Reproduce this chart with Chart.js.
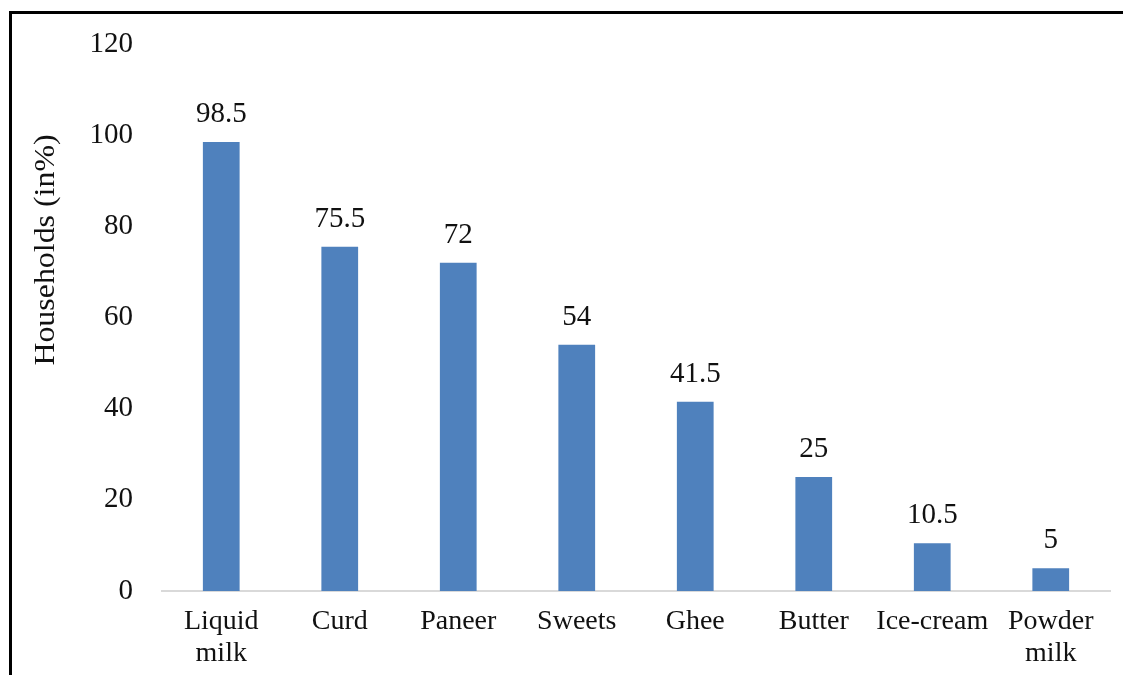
<!DOCTYPE html>
<html>
<head>
<meta charset="utf-8">
<script src="https://cdn.jsdelivr.net/npm/chart.js@4/dist/chart.umd.min.js"></script>
<style>
  html, body { margin: 0; padding: 0; background: #fff; }
  #wrap { position: relative; width: 1123px; height: 675px; overflow: hidden; }
  #frame {
    position: absolute; left: 9px; top: 11px; width: 1200px; height: 800px;
    border-left: 3px solid #000; border-top: 3px solid #000;
  }
  canvas { position: absolute; left: 0; top: 0; }
</style>
</head>
<body>
<div id="wrap">
  <div id="frame"></div>
  <canvas id="myChart" width="1123" height="675"></canvas>
</div>
<script>
const categories = [["Liquid", "milk"], "Curd", "Paneer", "Sweets", "Ghee", "Butter", "Ice-cream", ["Powder", "milk"]];
const households = [98.5, 75.5, 72, 54, 41.5, 25, 10.5, 5];
const yTicks = [0, 20, 40, 60, 80, 100, 120];
const axisTitle = "Households (in%)";

const serif = "'Liberation Serif', 'Times New Roman', serif";

// value labels above every bar
const barLabels = {
  id: "barLabels",
  afterDatasetsDraw(chart) {
    const ctx = chart.ctx;
    const meta = chart.getDatasetMeta(0);
    ctx.save();
    ctx.font = "29px " + serif;
    ctx.fillStyle = "#111";
    ctx.textAlign = "center";
    ctx.textBaseline = "bottom";
    meta.data.forEach((bar, i) => {
      ctx.fillText(String(households[i]), bar.x, bar.y - 13);
    });
    ctx.restore();
  }
};

// y title sits above the middle of the axis in the original
const sideTitle = {
  id: "sideTitle",
  afterDraw(chart) {
    const ctx = chart.ctx;
    ctx.save();
    ctx.translate(46, 250);
    ctx.rotate(-Math.PI / 2);
    ctx.scale(1.1, 1); // the source text is a little stretched along its length
    ctx.font = "29px " + serif;
    ctx.fillStyle = "#111";
    ctx.textAlign = "center";
    ctx.textBaseline = "middle";
    ctx.fillText(axisTitle, 0, 0);
    ctx.restore();
  }
};

new Chart(document.getElementById("myChart").getContext("2d"), {
  type: "bar",
  data: {
    labels: categories,
    datasets: [{
      data: households,
      backgroundColor: "#4F81BD",
      borderWidth: 0,
      barPercentage: 0.31,
      categoryPercentage: 1
    }]
  },
  options: {
    responsive: false,
    animation: false,
    events: [],
    layout: { padding: { top: 44, right: 13, bottom: 0, left: 0 } },
    plugins: { legend: { display: false }, tooltip: { enabled: false } },
    scales: {
      x: {
        grid: { display: true, drawOnChartArea: false, drawTicks: false },
        border: { display: true, color: "#d9d9d9", width: 2 },
        ticks: {
          color: "#111",
          padding: 15,
          maxRotation: 0,
          autoSkip: false,
          font: { family: serif, size: 28, lineHeight: 1.14 }
        },
        afterFit(scale) { scale.height = 84; }
      },
      y: {
        min: 0,
        max: 120,
        afterBuildTicks(scale) { scale.ticks = yTicks.map(v => ({ value: v })); },
        grid: { display: false },
        border: { display: false },
        ticks: {
          color: "#111",
          padding: 21,
          font: { family: serif, size: 29 }
        },
        afterFit(scale) { scale.width = 162; }
      }
    }
  },
  plugins: [barLabels, sideTitle]
});
</script>
</body>
</html>
